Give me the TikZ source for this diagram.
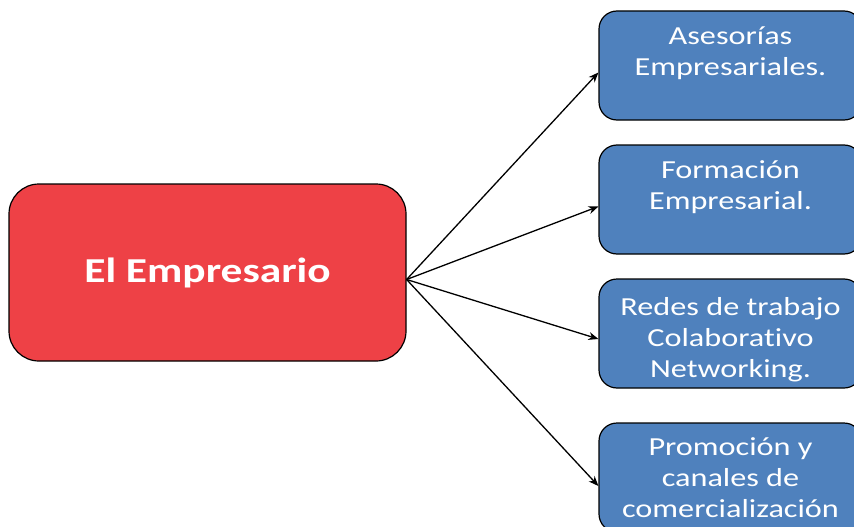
\documentclass[tikz,border=0pt]{standalone}
\usepackage{fontspec}
\setmainfont{Carlito}[FakeStretch=1.24,Ligatures=NoCommon]
\usetikzlibrary{arrows.meta}
\definecolor{rojo}{RGB}{238,65,70}
\definecolor{azul}{RGB}{79,129,189}
\newcommand{\alto}{\rule{0pt}{30pt}}
\begin{document}
\begin{tikzpicture}[x=1pt,y=-1pt,line join=round,>={Stealth[length=10pt,width=8pt]},
 caja/.style={draw=black,line width=1.2pt,fill=azul,text=white,rounded corners=18pt,
  minimum width=263pt,minimum height=109pt,align=center,inner sep=0pt,
  font=\fontsize{26}{31}\selectfont}]
 \useasboundingbox (0,0) rectangle (854,527);
 \clip (0,0) rectangle (854,527);
 \node[draw=black,line width=1.2pt,fill=rojo,text=white,rounded corners=30pt,
  minimum width=397pt,minimum height=177pt,font=\fontsize{35}{42}\selectfont\bfseries]
  (empresario) at (207.5,272.5) {El Empresario};
 \node[caja] (asesorias) at (730.5,65.5) {\alto Asesorías\\Empresariales.\\\strut};
 \node[caja] (formacion) at (730.5,199.5) {\alto Formación\\Empresarial.\\\strut};
 \node[caja] (redes) at (730.5,333.5) {\alto Redes de trabajo\\Colaborativo\\Networking.};
 \node[caja] (promocion) at (730.5,477.5) {Promoción y\\canales de\\comercialización};
 \draw[->,line width=1.3pt] ([yshift=-7pt]empresario.east) -- ([yshift=-7pt]asesorias.west);
 \draw[->,line width=1.3pt] ([yshift=-7pt]empresario.east) -- ([yshift=-7pt]formacion.west);
 \draw[->,line width=1.3pt] ([yshift=-7pt]empresario.east) -- ([yshift=-5.5pt]redes.west);
 \draw[->,line width=1.3pt] ([yshift=-7pt]empresario.east) -- ([yshift=-8.5pt]promocion.west);
\end{tikzpicture}
\end{document}
